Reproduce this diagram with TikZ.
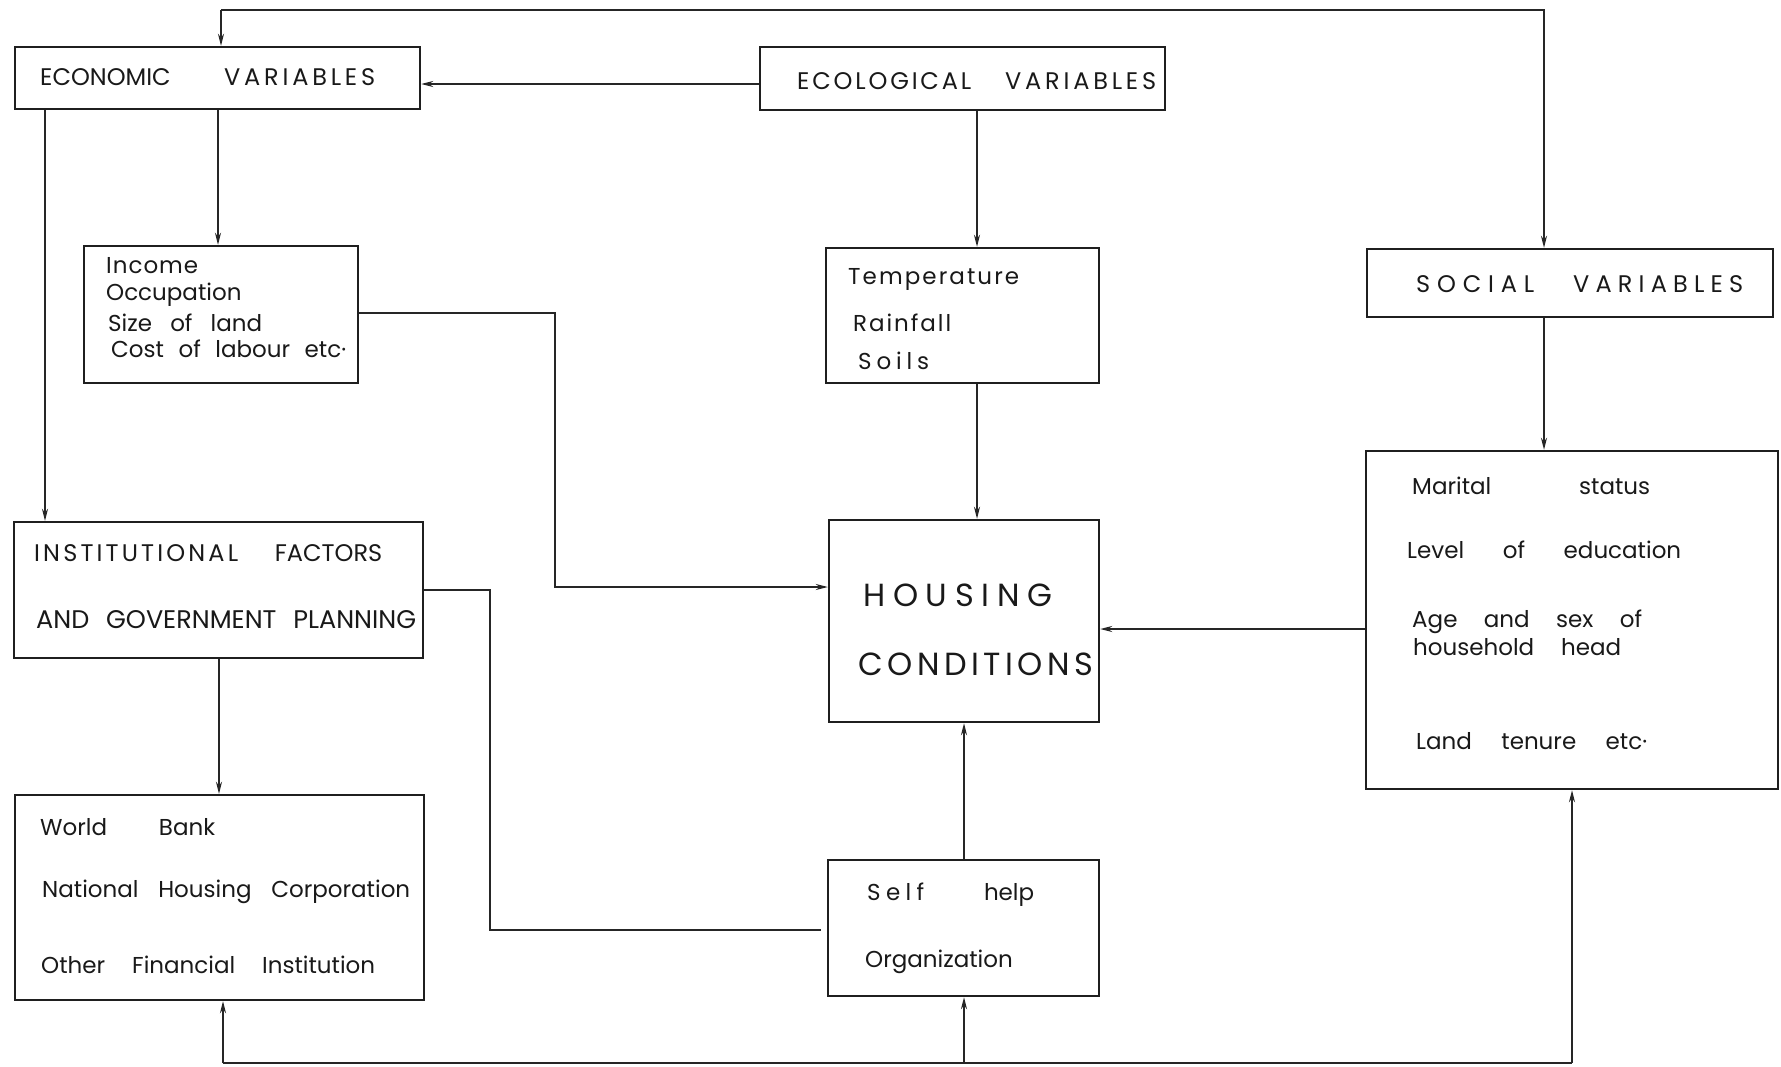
\documentclass[tikz,border=0pt]{standalone}
\usepackage{fontspec}
\setmainfont{Poppins}
\usetikzlibrary{arrows.meta}
\newcommand\fitto[2]{\makebox[#1][s]{#2}}
\begin{document}
\begin{tikzpicture}[x=1pt,y=-1pt,
  box/.style={draw=black!88,line width=2.4pt,inner sep=0pt,rectangle},
  conn/.style={draw=black!85,line width=1.7pt},
  arr/.style={-{Stealth[length=12pt,width=6pt]}},
  capt/.style={anchor=west,inner sep=0pt,font=\fontsize{24}{28}\selectfont,text=black!90},
  lowt/.style={anchor=west,inner sep=0pt,font=\fontsize{23}{27}\selectfont,text=black!90},
  bigt/.style={anchor=west,inner sep=0pt,font=\fontsize{32}{36}\selectfont,text=black!90}]
\useasboundingbox[fill=white] (0,0) rectangle (1781,1066);
% boxes
\node[box,minimum width=405pt,minimum height=62pt] (econ) at (217.5,78) {};
\node[box,minimum width=405pt,minimum height=63pt] (ecol) at (962.5,78.5) {};
\node[box,minimum width=274pt,minimum height=137pt] (income) at (221,314.5) {};
\node[box,minimum width=273pt,minimum height=135pt] (temp) at (962.5,315.5) {};
\node[box,minimum width=406pt,minimum height=68pt] (social) at (1570,283) {};
\node[box,minimum width=409pt,minimum height=136pt] (inst) at (218.5,590) {};
\node[box,minimum width=270pt,minimum height=202pt] (housing) at (964,621) {};
\node[box,minimum width=412pt,minimum height=338pt] (marital) at (1572,620) {};
\node[box,minimum width=409pt,minimum height=205pt] (wb) at (219.5,897.5) {};
\node[box,minimum width=271pt,minimum height=136pt] (self) at (963.5,928) {};
% texts
\node[capt] (t-econ) at (40,77) {\fitto{335pt}{ECONOMIC\hfil\fitto{151pt}{V\hfil A\hfil R\hfil I\hfil A\hfil B\hfil L\hfil E\hfil S}}};
\node[capt] (t-ecol) at (797,81) {\fitto{359pt}{\fitto{174pt}{E\hfil C\hfil O\hfil L\hfil O\hfil G\hfil I\hfil C\hfil A\hfil L}\hfil\fitto{151pt}{V\hfil A\hfil R\hfil I\hfil A\hfil B\hfil L\hfil E\hfil S}}};
\node[lowt] (t-inc1) at (106,266) {\fitto{92pt}{I\hfil n\hfil c\hfil o\hfil m\hfil e}};
\node[lowt] (t-inc2) at (106,295) {Occupation};
\node[lowt] (t-inc3) at (108,323) {\fitto{154pt}{Size of land}};
\node[lowt] (t-inc4) at (111,349) {\fitto{235pt}{Cost of labour etc·}};
\node[lowt] (t-tmp1) at (848,279) {\fitto{171pt}{T\hfil e\hfil m\hfil p\hfil e\hfil r\hfil a\hfil t\hfil u\hfil r\hfil e}};
\node[lowt] (t-tmp2) at (853,323) {\fitto{98pt}{R\hfil a\hfil i\hfil n\hfil f\hfil a\hfil l\hfil l}};
\node[lowt] (t-tmp3) at (858,361) {\fitto{71pt}{S\hfil o\hfil i\hfil l\hfil s}};
\node[capt] (t-soc) at (1416,284) {\fitto{327pt}{\fitto{118pt}{S\hfil O\hfil C\hfil I\hfil A\hfil L}\hfil\fitto{170pt}{V\hfil A\hfil R\hfil I\hfil A\hfil B\hfil L\hfil E\hfil S}}};
\node[capt] (t-ins1) at (34,553) {\fitto{348pt}{\fitto{204pt}{I\hfil N\hfil S\hfil T\hfil I\hfil T\hfil U\hfil T\hfil I\hfil O\hfil N\hfil A\hfil L} FACTORS}};
\node[capt,font=\fontsize{25.5}{28}\selectfont] (t-ins2) at (36,620) {\fitto{380pt}{AND GOVERNMENT PLANNING}};
\node[bigt] (t-hou1) at (863,595) {\fitto{189pt}{H\hfil O\hfil U\hfil S\hfil I\hfil N\hfil G}};
\node[bigt] (t-hou2) at (858,664) {\fitto{235pt}{C\hfil O\hfil N\hfil D\hfil I\hfil T\hfil I\hfil O\hfil N\hfil S}};
\node[lowt] (t-mar1) at (1412,486) {\fitto{238pt}{Marital status}};
\node[lowt] (t-mar2) at (1407,550) {\fitto{274pt}{Level of education}};
\node[lowt] (t-mar3) at (1412,622) {\fitto{230pt}{Age and sex of}};
\node[lowt] (t-mar4) at (1413,647) {\fitto{208pt}{household head}};
\node[lowt] (t-mar5) at (1416,741) {\fitto{231pt}{Land tenure etc·}};
\node[lowt] (t-wb1) at (40,827) {\fitto{175pt}{World Bank}};
\node[lowt] (t-wb2) at (42,892) {\fitto{368pt}{National Housing Corporation}};
\node[lowt] (t-wb3) at (41,965) {\fitto{334pt}{Other Financial Institution}};
\node[lowt] (t-sh1) at (867,895) {\fitto{167pt}{\fitto{57pt}{S\hfil e\hfil l\hfil f} help}};
\node[lowt] (t-sh2) at (865,962) {\fitto{172pt}{Organization}};
% junction coordinates
\coordinate (top1) at (221,10);
\coordinate (top2) at (1544,10);
\coordinate (ih) at (555,313);
\coordinate (ih2) at (555,587);
\coordinate (is) at (490,590);
\coordinate (is2) at (490,930);
\coordinate (b1) at (223,1063);
\coordinate (b2) at (964,1063);
\coordinate (b3) at (1572,1063);
% connectors
\draw[conn,arr] (top1) -- (econ.north -| top1);
\draw[conn,arr] (top1) -- (top2) -- (social.north -| top2);
\draw[conn,arr] (ecol.west |- 0,84) -- (econ.east |- 0,84);
\draw[conn,arr] (econ.south -| 218,0) -- (income.north -| 218,0);
\draw[conn,arr] (econ.south -| 45,0) -- (inst.north -| 45,0);
\draw[conn,arr] (income.east |- ih) -- (ih) -- (ih2) -- (housing.west |- ih2);
\draw[conn,arr] (ecol.south -| 977,0) -- (temp.north -| 977,0);
\draw[conn,arr] (temp.south -| 977,0) -- (housing.north -| 977,0);
\draw[conn,arr] (social.south -| 1544,0) -- (marital.north -| 1544,0);
\draw[conn,arr] (marital.west |- 0,629) -- (housing.east |- 0,629);
\draw[conn,arr] (inst.south -| 219,0) -- (wb.north -| 219,0);
\draw[conn] (inst.east |- is) -- (is) -- (is2) -- ([xshift=-6pt]self.west |- is2);
\draw[conn,arr] (self.north -| 964,0) -- (housing.south -| 964,0);
\draw[conn] (b1) -- (b3);
\draw[conn,arr] (b1) -- (wb.south -| b1);
\draw[conn,arr] (b2) -- (self.south -| b2);
\draw[conn,arr] (b3) -- (marital.south -| b3);
\end{tikzpicture}
\end{document}
